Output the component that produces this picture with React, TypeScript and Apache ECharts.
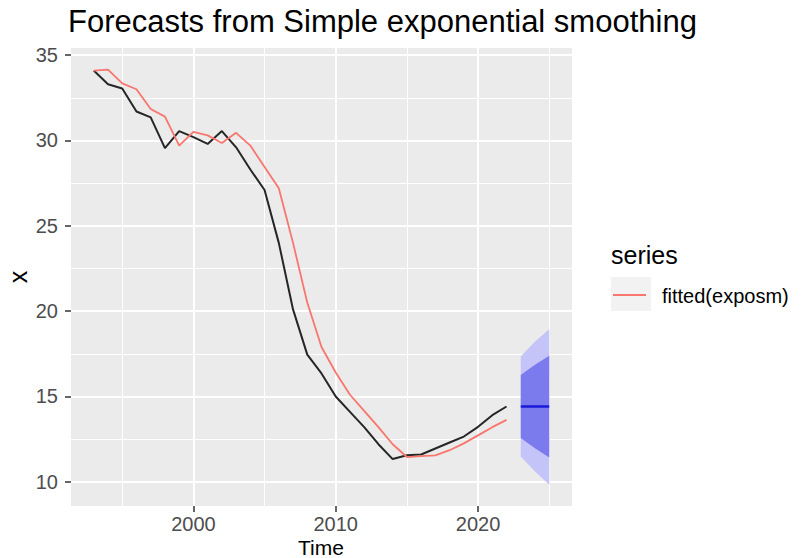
import React, { useEffect, useRef } from "react";
import * as echarts from "echarts";

const years = [1993, 1994, 1995, 1996, 1997, 1998, 1999, 2000, 2001, 2002, 2003, 2004, 2005, 2006, 2007, 2008, 2009, 2010, 2011, 2012, 2013, 2014, 2015, 2016, 2017, 2018, 2019, 2020, 2021, 2022];
const actual = [34.1, 33.3, 33.05, 31.7, 31.35, 29.55, 30.55, 30.2, 29.8, 30.55, 29.6, 28.3, 27.1, 24.0, 20.1, 17.45, 16.35, 15.0, 14.1, 13.2, 12.2, 11.33, 11.55, 11.6, 11.95, 12.3, 12.65, 13.22, 13.9, 14.41];
const fitted = [34.1, 34.15, 33.35, 33.0, 31.85, 31.4, 29.7, 30.5, 30.3, 29.85, 30.45, 29.7, 28.45, 27.2, 24.0, 20.5, 17.9, 16.4, 15.1, 14.15, 13.2, 12.2, 11.45, 11.5, 11.55, 11.85, 12.25, 12.72, 13.2, 13.63];

const fcYears = [2023, 2024, 2025];
const fcMean = [14.41, 14.41, 14.41];
const lo80 = [12.56, 11.96, 11.42];
const hi80 = [16.26, 16.86, 17.38];
const lo95 = [11.48, 10.6, 9.82];
const hi95 = [17.34, 18.22, 18.94];

const xMajorTicks = [2000, 2010, 2020];
const xMinorTicks = [1995, 2005, 2015, 2025];
const yMajorTicks = [10, 15, 20, 25, 30, 35];
const yMinorTicks = [12.5, 17.5, 22.5, 27.5, 32.5];

const FONT = '"Liberation Sans", Arial, sans-serif';

function bandSeries(lo: number[], hi: number[], color: string, z: number) {
  return {
    type: "custom",
    xAxisIndex: 0,
    yAxisIndex: 0,
    silent: true,
    z,
    data: [[fcYears[0], lo[0]]],
    renderItem: (_params: any, api: any) => {
      const top = fcYears.map((yr, i) => api.coord([yr, hi[i]]));
      const bot = fcYears.map((yr, i) => api.coord([yr, lo[i]])).reverse();
      return {
        type: "polygon",
        shape: { points: top.concat(bot) },
        style: { fill: color },
      };
    },
  };
}

export default function App() {
  const ref = useRef<HTMLDivElement>(null);
  useEffect(() => {
    if (!ref.current) return;
    const chart = echarts.init(ref.current, undefined, { renderer: "svg" });
    const xMin = 1991.4;
    const xMax = 2026.6;
    const yMin = 8.58;
    const yMax = 35.42;
    const fmt = (v: number) => String(v);
    chart.setOption({
      animation: false,
      backgroundColor: "#ffffff",
      textStyle: { fontFamily: FONT },
      title: {
        text: "Forecasts from Simple exponential smoothing",
        left: 68,
        top: 6,
        padding: 0,
        textStyle: { fontSize: 31, fontWeight: "normal", color: "#000", fontFamily: FONT },
      },
      grid: {
        left: 71,
        top: 48,
        right: 229,
        bottom: 52,
        show: true,
        backgroundColor: "#EBEBEB",
        borderWidth: 0,
        containLabel: false,
        outerBoundsMode: "none",
      },
      xAxis: [
        {
          type: "value",
          min: xMin,
          max: xMax,
          position: "bottom",
          axisLine: { show: false },
          axisTick: { show: true, customValues: xMajorTicks, length: 6, lineStyle: { color: "#333333", width: 1.5 } },
          axisLabel: { customValues: xMajorTicks, formatter: fmt, margin: 9, fontSize: 20, lineHeight: 18, color: "#4D4D4D", fontFamily: FONT },
          splitLine: { show: true, lineStyle: { color: "#ffffff", width: 2 } },
        },
        {
          type: "value",
          min: xMin,
          max: xMax,
          position: "bottom",
          axisLine: { show: false },
          axisTick: { show: false, customValues: xMinorTicks },
          axisLabel: { show: false, customValues: xMinorTicks },
          splitLine: { show: true, lineStyle: { color: "#ffffff", width: 1 } },
        },
      ],
      yAxis: [
        {
          type: "value",
          min: yMin,
          max: yMax,
          position: "left",
          axisLine: { show: false },
          axisTick: { show: true, customValues: yMajorTicks, length: 6, lineStyle: { color: "#333333", width: 1.5 } },
          axisLabel: { customValues: yMajorTicks, formatter: fmt, margin: 13, fontSize: 20, color: "#4D4D4D", fontFamily: FONT },
          splitLine: { show: true, lineStyle: { color: "#ffffff", width: 2 } },
        },
        {
          type: "value",
          min: yMin,
          max: yMax,
          position: "left",
          axisLine: { show: false },
          axisTick: { show: false, customValues: yMinorTicks },
          axisLabel: { show: false, customValues: yMinorTicks },
          splitLine: { show: true, lineStyle: { color: "#ffffff", width: 1 } },
        },
      ],
      series: [
        {
          type: "line",
          name: "x",
          data: years.map((y, i) => [y, actual[i]]),
          symbol: "none",
          lineStyle: { color: "#262626", width: 2 },
          z: 3,
        },
        {
          type: "line",
          name: "fitted(exposm)",
          data: years.map((y, i) => [y, fitted[i]]),
          symbol: "none",
          lineStyle: { color: "#F8766D", width: 1.8 },
          z: 4,
        },
        bandSeries(lo95, hi95, "#C4C4F8", 2),
        bandSeries(lo80, hi80, "#7B7BEE", 2.5),
        {
          type: "line",
          name: "forecast",
          data: fcYears.map((y, i) => [y, fcMean[i]]),
          symbol: "none",
          lineStyle: { color: "#1a1ad8", width: 2.5 },
          z: 5,
        },
      ],
      graphic: [
        {
          type: "text",
          x: 321,
          y: 557.5,
          style: { text: "Time", fontSize: 21, lineHeight: 21, fontFamily: FONT, fill: "#000", align: "center", verticalAlign: "bottom" },
        },
        {
          type: "text",
          x: 18,
          y: 277,
          rotation: Math.PI / 2,
          style: { text: "x", fontSize: 25, fontFamily: FONT, fill: "#000", align: "center", verticalAlign: "middle" },
        },
        {
          type: "text",
          left: 611,
          top: 242,
          style: { text: "series", fontSize: 25, fontFamily: FONT, fill: "#000" },
        },
        {
          type: "rect",
          shape: { x: 611, y: 277, width: 40, height: 34 },
          style: { fill: "#F2F2F2" },
        },
        {
          type: "line",
          shape: { x1: 613, y1: 295, x2: 646, y2: 295 },
          style: { stroke: "#F8766D", lineWidth: 1.8 },
        },
        {
          type: "text",
          left: 662,
          top: 286,
          style: { text: "fitted(exposm)", fontSize: 20, fontFamily: FONT, fill: "#000" },
        },
      ],
    });
    return () => chart.dispose();
  }, []);
  return <div ref={ref} style={{ position: "fixed", left: 0, top: 0, width: 801, height: 558 }} />;
}
